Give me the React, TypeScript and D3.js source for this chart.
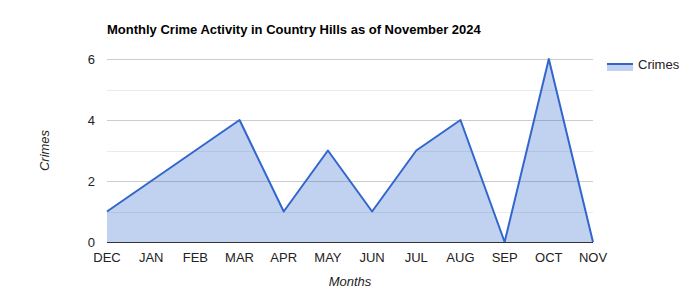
import React from "react";
import * as d3 from "d3";

const months = ["DEC", "JAN", "FEB", "MAR", "APR", "MAY", "JUN", "JUL", "AUG", "SEP", "OCT", "NOV"];
const crimes = [1, 2, 3, 4, 1, 3, 1, 3, 4, 0, 6, 0];
const majorTicks = [0, 2, 4, 6];
const minorTicks = [1, 3, 5];

const W = 700, H = 300;
const left = 107, right = 593, top = 59, bottom = 242;
const font = "Arial, 'Liberation Sans', sans-serif";

export default function App() {
  const x = d3.scalePoint<string>().domain(months).range([left, right]);
  const y = d3.scaleLinear().domain([0, 6]).range([bottom, top]);
  const pts = months.map((m, i) => [x(m)!, y(crimes[i])] as [number, number]);
  const line = d3.line()(pts)!;
  const area = d3.area<[number, number]>().x(d => d[0]).y0(bottom).y1(d => d[1])(pts)!;
  return (
    <svg width={W} height={H} style={{ position: "absolute", left: 0, top: 0 }} fontFamily={font}>
      <rect width={W} height={H} fill="#fff" />
      <text x={107} y={34} fontSize={13} fontWeight="bold" fill="#000">Monthly Crime Activity in Country Hills as of November 2024</text>
      {minorTicks.map(t => (
        <line key={"m" + t} x1={left} x2={right} y1={Math.round(y(t)) + 0.5} y2={Math.round(y(t)) + 0.5} stroke="#ebebeb" />
      ))}
      {majorTicks.filter(t => t > 0).map(t => (
        <line key={"M" + t} x1={left} x2={right} y1={Math.round(y(t)) + 0.5} y2={Math.round(y(t)) + 0.5} stroke="#cccccc" />
      ))}
      <path d={area} fill="#3366cc" fillOpacity={0.3} />
      <path d={line} fill="none" stroke="#3366cc" strokeWidth={2} strokeLinejoin="round" />
      <line x1={left} x2={right} y1={bottom + 0.5} y2={bottom + 0.5} stroke="#333" />
      {majorTicks.map(t => (
        <text key={"yl" + t} x={95} y={y(t) + 5} fontSize={13} textAnchor="end" fill="#222">{t}</text>
      ))}
      {months.map(m => (
        <text key={m} x={x(m)} y={262} fontSize={13} textAnchor="middle" fill="#222">{m}</text>
      ))}
      <text x={350} y={286} fontSize={13} fontStyle="italic" textAnchor="middle" fill="#222">Months</text>
      <text transform={`translate(49,${(top + bottom) / 2}) rotate(-90)`} fontSize={13} fontStyle="italic" textAnchor="middle" fill="#222">Crimes</text>
      <rect x={607} y={64} width={26} height={7} fill="#3366cc" fillOpacity={0.3} />
      <line x1={607} x2={633} y1={64} y2={64} stroke="#3366cc" strokeWidth={2} />
      <text x={638} y={69} fontSize={13} fill="#222">Crimes</text>
    </svg>
  );
}
